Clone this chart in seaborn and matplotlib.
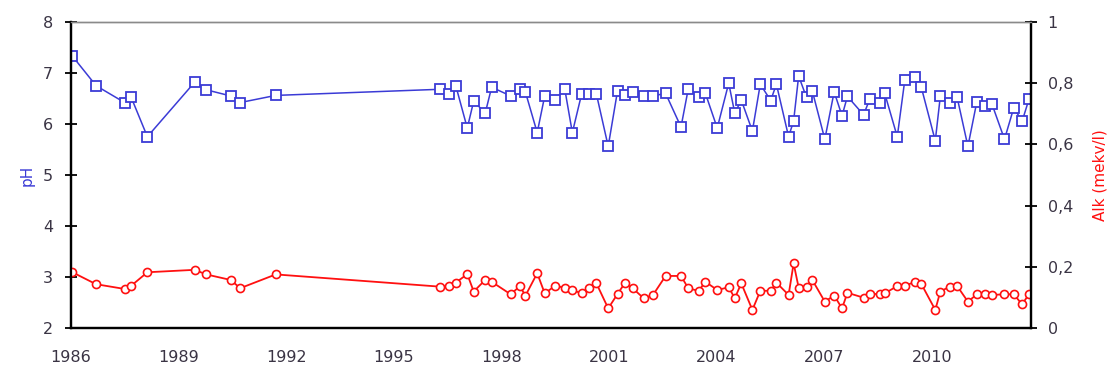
import numpy as np
import pandas as pd
import matplotlib
matplotlib.use("Agg")
import matplotlib.pyplot as plt
import seaborn as sns

# Sampling dates (decimal years)
dates = [
    1986.04, 1986.70, 1987.52, 1987.68, 1988.13, 1989.45, 1989.77, 1990.45, 1990.72, 1991.71,
    1996.29, 1996.55, 1996.73, 1997.05, 1997.23, 1997.55, 1997.73, 1998.26, 1998.52, 1998.67,
    1999.00, 1999.21, 1999.49, 1999.77, 1999.98, 2000.24, 2000.45, 2000.65, 2000.98, 2001.24,
    2001.44, 2001.66, 2001.97, 2002.23, 2002.58, 2003.01, 2003.21, 2003.50, 2003.69, 2004.02,
    2004.34, 2004.51, 2004.69, 2005.00, 2005.22, 2005.51, 2005.67, 2006.01, 2006.15, 2006.29,
    2006.51, 2006.67, 2007.02, 2007.28, 2007.50, 2007.65, 2008.10, 2008.27, 2008.55, 2008.69,
    2009.04, 2009.25, 2009.53, 2009.71, 2010.10, 2010.24, 2010.50, 2010.71, 2011.01, 2011.26,
    2011.48, 2011.68, 2012.03, 2012.29, 2012.52, 2012.71,
]

# pH
ph = [
    7.33, 6.75, 6.41, 6.52, 5.75, 6.82, 6.67, 6.55, 6.42, 6.56,
    6.68, 6.59, 6.75, 5.92, 6.45, 6.21, 6.72, 6.55, 6.68, 6.63,
    5.83, 6.55, 6.47, 6.68, 5.83, 6.59, 6.59, 6.59, 5.56, 6.65,
    6.57, 6.63, 6.55, 6.55, 6.60, 5.94, 6.68, 6.52, 6.60, 5.92,
    6.80, 6.21, 6.47, 5.86, 6.78, 6.46, 6.78, 5.75, 6.06, 6.94,
    6.52, 6.65, 5.70, 6.63, 6.16, 6.54, 6.18, 6.48, 6.41, 6.60,
    5.75, 6.86, 6.93, 6.72, 5.67, 6.54, 6.41, 6.52, 5.56, 6.44,
    6.35, 6.39, 5.70, 6.32, 6.05, 6.48,
]

# Alkalinity (mekv/l)
alk = [
    0.182, 0.143, 0.127, 0.138, 0.182, 0.190, 0.175, 0.157, 0.130, 0.175,
    0.135, 0.137, 0.148, 0.176, 0.119, 0.157, 0.151, 0.110, 0.137, 0.105,
    0.179, 0.113, 0.137, 0.132, 0.124, 0.113, 0.130, 0.146, 0.064, 0.111,
    0.146, 0.130, 0.097, 0.108, 0.170, 0.170, 0.130, 0.121, 0.151, 0.124,
    0.133, 0.097, 0.146, 0.059, 0.121, 0.122, 0.148, 0.108, 0.211, 0.132,
    0.135, 0.157, 0.086, 0.106, 0.064, 0.115, 0.099, 0.111, 0.111, 0.113,
    0.137, 0.137, 0.151, 0.144, 0.059, 0.119, 0.135, 0.137, 0.086, 0.110,
    0.110, 0.108, 0.110, 0.110, 0.077, 0.110,
]

x_ticks = [1986, 1989, 1992, 1995, 1998, 2001, 2004, 2007, 2010]
ph_ticks = [2, 3, 4, 5, 6, 7, 8]
alk_ticks = [0, 0.2, 0.4, 0.6, 0.8, 1.0]
alk_tick_labels = ["0", "0,2", "0,4", "0,6", "0,8", "1"]

df = pd.DataFrame({"date": dates, "pH": ph, "Alk": alk})

sns.set_style("white")
plt.rcParams["font.family"] = ["DejaVu Sans"]

BLUE = "#3b3bd6"
RED = "#ff1010"
TXT = "#3a3444"

fig = plt.figure(figsize=(11.09, 3.71), dpi=100)
ax = fig.add_axes([0.064, 0.116, 0.8657, 0.8248])
ax2 = ax.twinx()

sns.lineplot(data=df, x="date", y="pH", ax=ax, color=BLUE, lw=1.1,
             marker="s", markersize=7.3, markerfacecolor="white",
             markeredgecolor=BLUE, markeredgewidth=1.3, sort=False)
sns.lineplot(data=df, x="date", y="Alk", ax=ax2, color=RED, lw=1.3,
             marker="o", markersize=5.8, markerfacecolor="white",
             markeredgecolor=RED, markeredgewidth=1.2, sort=False)

ax.set_xlim(1986, 2012.77)
ax.set_ylim(2, 8)
ax2.set_ylim(0, 1)

ax.set_xticks(x_ticks)
ax.set_xticklabels([str(t) for t in x_ticks])
ax.set_yticks(ph_ticks)
ax2.set_yticks(alk_ticks)
ax2.set_yticklabels(alk_tick_labels)

ax.set_xlabel("")
ax.set_ylabel("pH", color=BLUE, fontsize=11, labelpad=6)
ax2.set_ylabel("Alk (mekv/l)", color=RED, fontsize=11, labelpad=14)

for a in (ax, ax2):
    for side in ("left", "right", "bottom"):
        a.spines[side].set_color("black")
        a.spines[side].set_linewidth(1.6)
    a.spines["top"].set_color("#8a8a8a")
    a.spines["top"].set_linewidth(1.0)
    a.tick_params(direction="inout", length=8, width=1.3, colors="black",
                  labelcolor=TXT, labelsize=11.5)

ax.tick_params(axis="y", pad=9)
ax.tick_params(axis="x", pad=12)
ax2.tick_params(axis="y", pad=8)
ax.tick_params(axis="y", right=False)
ax2.tick_params(axis="y", left=False)

fig.savefig("out.png", dpi=100, facecolor="white")
